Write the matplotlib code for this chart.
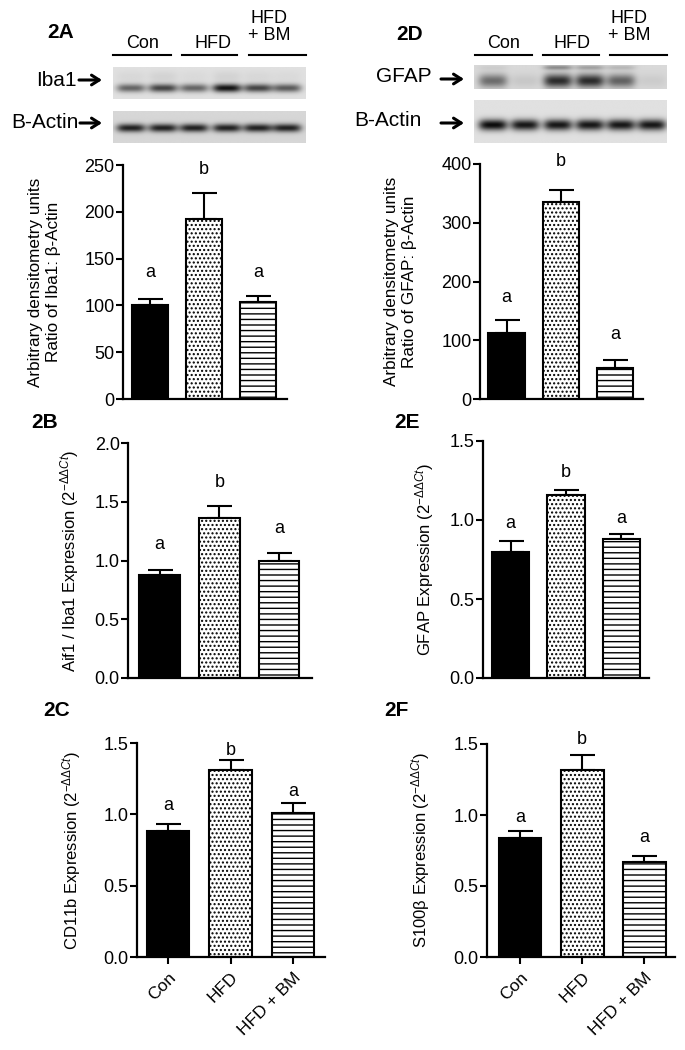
import numpy as np
import matplotlib
matplotlib.use("Agg")
import matplotlib.pyplot as plt

plt.rcParams['font.family'] = ['Liberation Sans', 'DejaVu Sans']
plt.rcParams['mathtext.fontset'] = 'custom'
plt.rcParams['mathtext.rm'] = 'Liberation Sans'
plt.rcParams['mathtext.it'] = 'Liberation Sans:italic'
plt.rcParams['hatch.linewidth'] = 1.0

# ---------------- data ----------------
groups = ["Con", "HFD", "HFD + BM"]

iba1_wb = [100, 192, 104]
iba1_wb_err = [7, 28, 6]
iba1_wb_letters = ["a", "b", "a"]
iba1_wb_letter_y = [135, 245, 135]

gfap_wb = [112, 336, 52]
gfap_wb_err = [23, 20, 14]
gfap_wb_letters = ["a", "b", "a"]
gfap_wb_letter_y = [172, 405, 109]

aif1_qpcr = [0.88, 1.36, 1.00]
aif1_qpcr_err = [0.04, 0.10, 0.06]
aif1_letters = ["a", "b", "a"]
aif1_letter_y = [1.14, 1.66, 1.27]

gfap_qpcr = [0.80, 1.16, 0.88]
gfap_qpcr_err = [0.07, 0.03, 0.03]
gfap_letters = ["a", "b", "a"]
gfap_letter_y = [0.98, 1.30, 1.01]

cd11b_qpcr = [0.88, 1.31, 1.01]
cd11b_qpcr_err = [0.05, 0.07, 0.07]
cd11b_letters = ["a", "b", "a"]
cd11b_letter_y = [1.065, 1.45, 1.157]

s100b_qpcr = [0.84, 1.32, 0.67]
s100b_qpcr_err = [0.05, 0.10, 0.04]
s100b_letters = ["a", "b", "a"]
s100b_letter_y = [0.98, 1.53, 0.845]

# western blot band intensities (6 lanes: Con, Con, HFD, HFD, HFD+BM, HFD+BM)
iba1_bands = [0.55, 0.70, 0.55, 0.92, 0.70, 0.60]
iba1_upper_bands = [0.04, 0.06, 0.03, 0.06, 0.04, 0.03]
iba1_actin_bands = [0.85, 0.85, 0.85, 0.85, 0.85, 0.85]
gfap_bands = [0.50, 0.08, 0.80, 0.80, 0.55, 0.06]
gfap_upper_bands = [0.05, 0.0, 0.35, 0.25, 0.15, 0.0]
gfap_actin_bands = [0.95, 0.90, 0.90, 0.90, 0.90, 0.90]

W, H = 685, 1050
fig = plt.figure(figsize=(W / 100, H / 100), dpi=100)
fig.patch.set_facecolor('white')


def px_axes(left, top, right, bottom):
    return fig.add_axes([left / W, 1 - bottom / H, (right - left) / W, (bottom - top) / H])


fills = [dict(facecolor='black', hatch=None),
         dict(facecolor='white', hatch='....'),
         dict(facecolor='white', hatch='---')]


def bar_panel(box, vals, errs, letters, letter_y, yticks, ylabel, xlim, width,
              label_x, show_x=False, ylabel_size=12):
    ax = px_axes(*box)
    x = np.arange(len(vals))
    for i in range(len(vals)):
        ax.bar(x[i], vals[i], width=width, edgecolor='black', linewidth=1.5,
               zorder=2, **fills[i])
        ax.errorbar(x[i], vals[i], yerr=[[0], [errs[i]]], fmt='none',
                    ecolor='black', elinewidth=1.5, capsize=9, capthick=1.5, zorder=1)
        ax.text(x[i], letter_y[i], letters[i], ha='center', va='center', fontsize=13)
    ax.set_xlim(*xlim)
    ax.set_ylim(yticks[0], yticks[-1])
    ax.set_yticks(yticks)
    if isinstance(yticks[1], float):
        ax.set_yticklabels([f"{t:.1f}" for t in yticks])
    for s in ['top', 'right']:
        ax.spines[s].set_visible(False)
    for s in ['left', 'bottom']:
        ax.spines[s].set_linewidth(1.6)
    ax.tick_params(axis='y', direction='out', length=5, width=1.5, labelsize=13, pad=1)
    if show_x:
        ax.set_xticks(x)
        ax.set_xticklabels(groups, rotation=45, ha='right', rotation_mode='anchor', fontsize=12.5)
        ax.tick_params(axis='x', direction='out', length=5, width=1.5, pad=4)
    else:
        ax.set_xticks([])
    ax.text(label_x, 0.5, ylabel, transform=ax.transAxes, rotation=90,
            ha='center', va='center', fontsize=ylabel_size, linespacing=1.25)
    return ax


bar_panel((123, 165, 287, 399), iba1_wb, iba1_wb_err, iba1_wb_letters, iba1_wb_letter_y,
          [0, 50, 100, 150, 200, 250],
          "Arbitrary densitometry units\nRatio of Iba1: \u03b2-Actin",
          (-0.5, 2.53), 0.67, -0.48, ylabel_size=12.3)
bar_panel((480, 164, 643, 399), gfap_wb, gfap_wb_err, gfap_wb_letters, gfap_wb_letter_y,
          [0, 100, 200, 300, 400],
          "Arbitrary densitometry units\nRatio of GFAP: \u03b2-Actin",
          (-0.49, 2.52), 0.67, -0.49, ylabel_size=12.3)
bar_panel((128, 443, 312, 678), aif1_qpcr, aif1_qpcr_err, aif1_letters, aif1_letter_y,
          [0.0, 0.5, 1.0, 1.5, 2.0],
          r"Aif1 / Iba1 Expression (2$^{-\Delta\Delta Ct}$)",
          (-0.53, 2.55), 0.68, -0.32)
bar_panel((483, 441, 649, 678), gfap_qpcr, gfap_qpcr_err, gfap_letters, gfap_letter_y,
          [0.0, 0.5, 1.0, 1.5],
          r"GFAP Expression (2$^{-\Delta\Delta Ct}$)",
          (-0.5, 2.5), 0.67, -0.35)
bar_panel((137, 743, 325, 957), cd11b_qpcr, cd11b_qpcr_err, cd11b_letters, cd11b_letter_y,
          [0.0, 0.5, 1.0, 1.5],
          r"CD11b Expression (2$^{-\Delta\Delta Ct}$)",
          (-0.5, 2.51), 0.68, -0.346, show_x=True)
bar_panel((487, 744, 675, 957), s100b_qpcr, s100b_qpcr_err, s100b_letters, s100b_letter_y,
          [0.0, 0.5, 1.0, 1.5],
          "S100\u03b2 " + r"Expression (2$^{-\Delta\Delta Ct}$)",
          (-0.53, 2.49), 0.69, -0.356, show_x=True)


# ---------------- western blots ----------------
def blot(box, bg, lane_fx, intens, band_fy, band_h, lane_w=0.075, extra=None):
    ax = px_axes(*box)
    nx, ny = 400, 120
    xs = np.linspace(0, 1, nx)[None, :]
    ys = np.linspace(0, 1, ny)[:, None]
    img = np.full((ny, nx), bg)
    specs = [(intens, band_fy, band_h)]
    if extra is not None:
        specs.append(extra)
    for ints, fy, h in specs:
        for c, a in zip(lane_fx, ints):
            prof = np.exp(-((xs - c) / lane_w) ** 4) * np.exp(-((ys - fy) / h) ** 2)
            img = img - a * bg * prof
    ax.imshow(np.clip(img, 0, 1), cmap='gray', vmin=0, vmax=1, aspect='auto',
              extent=(0, 1, 1, 0), interpolation='bilinear')
    ax.set_xlim(0, 1)
    ax.set_ylim(1, 0)
    ax.axis('off')


iba1_lanes = [0.093, 0.259, 0.42, 0.591, 0.751, 0.902]
gfap_lanes = [0.098, 0.264, 0.435, 0.601, 0.762, 0.922]

blot((113, 67, 306, 99), 0.88, iba1_lanes, iba1_bands, 0.66, 0.13,
     extra=(iba1_upper_bands, 0.3, 0.18))
blot((113, 111, 306, 143), 0.84, iba1_lanes, iba1_actin_bands, 0.53, 0.13)
blot((474, 65, 667, 89), 0.85, gfap_lanes, gfap_bands, 0.66, 0.28,
     extra=(gfap_upper_bands, 0.1, 0.1))
blot((474, 100, 667, 143), 0.88, gfap_lanes, gfap_actin_bands, 0.58, 0.13)

# group lines & labels over the blots
lab_ax = fig.add_axes([0, 0, 1, 1], facecolor='none')
lab_ax.set_xlim(0, W)
lab_ax.set_ylim(H, 0)
lab_ax.axis('off')

for segs, centers in [([(113, 171), (182, 237), (249, 306)], [143, 213, 269]),
                      ([(475, 532), (543, 599), (610, 667)], [504, 572, 629])]:
    for (a, b) in segs:
        lab_ax.plot([a, b], [55, 55], color='black', lw=1.5)
    lab_ax.text(centers[0], 43, "Con", ha='center', va='center', fontsize=13)
    lab_ax.text(centers[1], 43, "HFD", ha='center', va='center', fontsize=13)
    lab_ax.text(centers[2], 27, "HFD\n+ BM", ha='center', va='center', fontsize=13,
                linespacing=1.0)


def arrow(x0, x1, y):
    lab_ax.annotate("", xy=(x1, y), xytext=(x0, y),
                    arrowprops=dict(arrowstyle='->,head_length=0.55,head_width=0.35',
                                    lw=2.2, color='black', shrinkA=0, shrinkB=0))


lab_ax.text(77, 80, "Iba1", ha='right', va='center', fontsize=15)
arrow(79, 102, 80)
lab_ax.text(11, 123, "B-Actin", ha='left', va='center', fontsize=15)
arrow(80, 102, 123)
lab_ax.text(404, 76, "GFAP", ha='center', va='center', fontsize=15)
arrow(441, 464, 79)
lab_ax.text(354, 120, "B-Actin", ha='left', va='center', fontsize=15)
arrow(441, 464, 123)

# panel letters
for txt, x, y in [("2A", 61, 33), ("2D", 410, 35), ("2B", 45, 423),
                  ("2E", 407, 423), ("2C", 57, 710), ("2F", 396, 710)]:
    lab_ax.text(x, y, txt, ha='center', va='center', fontsize=15, fontweight='bold')

fig.savefig("out.png", dpi=100, facecolor='white')
